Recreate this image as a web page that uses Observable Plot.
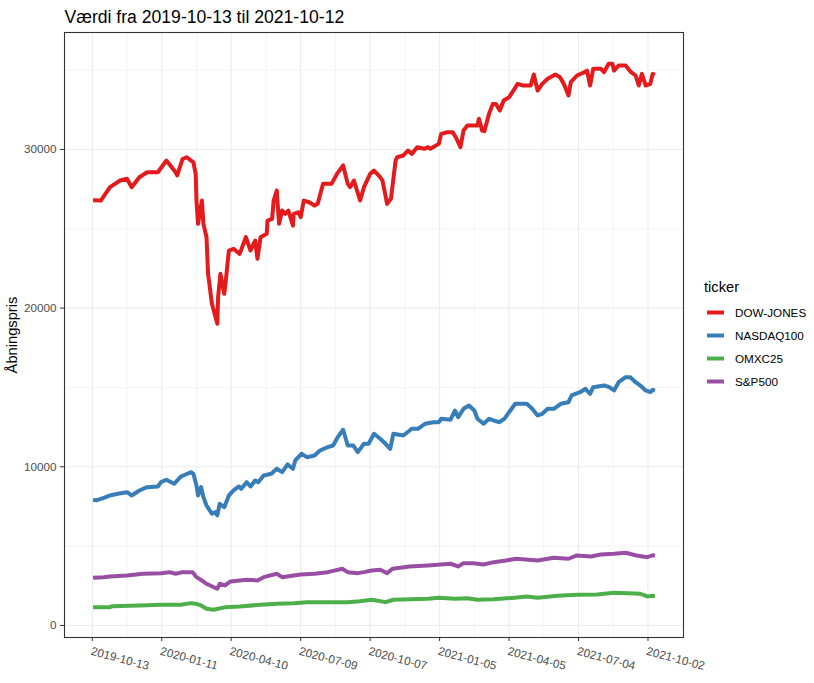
<!DOCTYPE html>
<html><head><meta charset="utf-8">
<script src="https://cdn.jsdelivr.net/npm/d3@7"></script>
<script src="https://cdn.jsdelivr.net/npm/@observablehq/plot@0.6"></script>
<style>body{margin:0;background:#fff;} svg{display:block}</style>
</head><body><div id="chart"></div>
<script>
const tickers = ["DOW-JONES","NASDAQ100","OMXC25","S&P500"];
const colors = ["#E41A1C","#377EB8","#4DAF4A","#984EA3"];
const titleText = "Værdi fra 2019-10-13 til 2021-10-12";
const yTitle = "Åbningspris";
const legendTitle = "ticker";

const dowDates = ["2019-10-14","2019-10-24","2019-11-05","2019-11-18","2019-11-27","2019-12-03","2019-12-13","2019-12-23","2020-01-06","2020-01-17","2020-01-29","2020-01-31","2020-02-07","2020-02-12","2020-02-21","2020-02-24","2020-02-25","2020-02-27","2020-03-03","2020-03-05","2020-03-09","2020-03-11","2020-03-16","2020-03-23","2020-03-24","2020-03-27","2020-04-01","2020-04-03","2020-04-07","2020-04-13","2020-04-21","2020-04-29","2020-05-05","2020-05-11","2020-05-14","2020-05-18","2020-05-26","2020-05-27","2020-06-02","2020-06-04","2020-06-08","2020-06-11","2020-06-15","2020-06-19","2020-06-23","2020-06-29","2020-06-30","2020-07-06","2020-07-09","2020-07-13","2020-07-20","2020-07-27","2020-07-31","2020-08-07","2020-08-18","2020-08-25","2020-09-02","2020-09-08","2020-09-11","2020-09-16","2020-09-24","2020-09-29","2020-10-07","2020-10-12","2020-10-20","2020-10-23","2020-10-29","2020-11-03","2020-11-09","2020-11-11","2020-11-19","2020-11-25","2020-11-30","2020-12-07","2020-12-16","2020-12-21","2020-12-24","2021-01-04","2021-01-07","2021-01-15","2021-01-22","2021-01-26","2021-02-01","2021-02-05","2021-02-10","2021-02-23","2021-02-25","2021-03-01","2021-03-04","2021-03-10","2021-03-15","2021-03-19","2021-03-24","2021-03-29","2021-04-05","2021-04-12","2021-04-16","2021-04-23","2021-05-03","2021-05-07","2021-05-12","2021-05-18","2021-05-25","2021-06-04","2021-06-10","2021-06-15","2021-06-21","2021-06-24","2021-07-02","2021-07-12","2021-07-15","2021-07-19","2021-07-23","2021-08-02","2021-08-06","2021-08-12","2021-08-17","2021-08-19","2021-08-25","2021-09-03","2021-09-10","2021-09-16","2021-09-20","2021-09-24","2021-09-29","2021-10-05","2021-10-08","2021-10-11"];
const dowValues = [26800,26780,27620,28040,28150,27620,28250,28560,28560,29300,28560,28360,29400,29510,29190,28460,26780,25310,26780,25310,24470,22160,20270,19010,20690,22160,20900,21740,23630,23740,23420,24470,23630,24260,23110,24470,24680,25520,25630,26780,27410,25310,26150,25940,26150,25200,25940,26040,25730,26780,26670,26460,26570,27830,27830,28460,28990,27830,27620,28040,26780,27620,28460,28670,28250,28040,26570,26900,29300,29510,29620,29930,29720,30140,30040,30140,30040,30350,30980,31080,31080,30770,30140,31190,31510,31510,31930,31190,31150,32240,32870,32870,32450,33080,33290,33820,34130,34030,34030,34720,33710,34130,34450,34720,34550,34130,33400,34240,34660,34870,34970,34030,35080,35080,34870,35400,35400,34970,35290,35290,34870,34660,34030,34760,34030,34130,34760,34700];

const ndqDates = ["2019-10-14","2019-10-18","2019-10-28","2019-11-05","2019-11-15","2019-11-27","2019-12-03","2019-12-13","2019-12-23","2020-01-06","2020-01-10","2020-01-17","2020-01-27","2020-02-05","2020-02-18","2020-02-21","2020-02-25","2020-02-27","2020-03-02","2020-03-05","2020-03-09","2020-03-16","2020-03-20","2020-03-23","2020-03-26","2020-04-01","2020-04-07","2020-04-13","2020-04-20","2020-04-23","2020-04-30","2020-05-05","2020-05-11","2020-05-15","2020-05-22","2020-06-01","2020-06-08","2020-06-15","2020-06-22","2020-06-29","2020-07-02","2020-07-10","2020-07-17","2020-07-27","2020-08-03","2020-08-13","2020-08-20","2020-08-26","2020-09-02","2020-09-08","2020-09-15","2020-09-21","2020-09-29","2020-10-05","2020-10-12","2020-10-20","2020-10-27","2020-11-02","2020-11-06","2020-11-19","2020-11-30","2020-12-08","2020-12-17","2020-12-28","2021-01-04","2021-01-07","2021-01-19","2021-01-25","2021-01-29","2021-02-05","2021-02-12","2021-02-19","2021-02-23","2021-03-03","2021-03-10","2021-03-16","2021-03-23","2021-03-30","2021-04-05","2021-04-13","2021-04-22","2021-04-28","2021-05-05","2021-05-12","2021-05-18","2021-05-25","2021-06-02","2021-06-11","2021-06-21","2021-06-25","2021-07-06","2021-07-13","2021-07-19","2021-07-23","2021-08-06","2021-08-13","2021-08-19","2021-08-25","2021-09-03","2021-09-09","2021-09-16","2021-09-22","2021-09-29","2021-10-05","2021-10-08","2021-10-11"];
const ndqValues = [7920,7880,8046,8191,8298,8399,8191,8506,8714,8758,9029,9180,8929,9389,9660,9559,8821,8191,8714,8084,7561,7038,7139,6931,7668,7454,8191,8506,8758,8613,9029,8758,9136,9029,9452,9559,9874,9660,10145,9874,10397,10819,10605,10712,11027,11235,11342,11865,12331,11342,11342,10920,11449,11449,12079,11764,11449,11134,12079,11972,12394,12394,12709,12810,12810,13024,12961,13547,13125,13654,13862,13547,13024,12709,13024,12917,12810,13024,13440,13969,13969,13969,13654,13232,13339,13654,13654,13969,14070,14493,14700,14915,14600,15016,15122,15016,14808,15331,15646,15646,15331,15122,14808,14700,14851,14800];

const omxDates = ["2019-10-14","2019-11-05","2019-11-08","2019-12-13","2020-01-10","2020-02-05","2020-02-18","2020-02-24","2020-03-02","2020-03-09","2020-03-18","2020-03-24","2020-04-03","2020-04-21","2020-05-18","2020-06-08","2020-06-30","2020-07-17","2020-08-13","2020-09-08","2020-09-24","2020-10-09","2020-10-27","2020-11-06","2020-12-21","2021-01-04","2021-01-25","2021-02-10","2021-02-23","2021-03-16","2021-04-12","2021-04-28","2021-05-12","2021-06-07","2021-07-02","2021-07-28","2021-08-19","2021-09-06","2021-09-22","2021-10-01","2021-10-08","2021-10-11"];
const omxValues = [1153,1153,1216,1260,1304,1304,1405,1367,1260,1052,989,1052,1153,1197,1304,1367,1405,1468,1468,1468,1531,1619,1468,1619,1682,1745,1682,1720,1619,1657,1745,1827,1745,1871,1934,1953,2060,2035,1997,1827,1871,1860];

const spxDates = ["2019-10-14","2019-10-28","2019-11-05","2019-11-27","2019-12-18","2020-01-10","2020-01-21","2020-01-29","2020-02-07","2020-02-20","2020-02-25","2020-03-03","2020-03-09","2020-03-18","2020-03-23","2020-03-26","2020-04-02","2020-04-09","2020-04-30","2020-05-14","2020-05-22","2020-06-08","2020-06-15","2020-06-30","2020-07-09","2020-07-27","2020-08-13","2020-09-01","2020-09-08","2020-09-21","2020-09-29","2020-10-09","2020-10-20","2020-10-29","2020-11-05","2020-11-27","2020-12-21","2021-01-19","2021-01-29","2021-02-05","2021-02-18","2021-03-03","2021-03-16","2021-04-01","2021-04-14","2021-05-12","2021-06-02","2021-06-21","2021-07-02","2021-07-20","2021-08-02","2021-08-19","2021-09-03","2021-09-17","2021-10-01","2021-10-08","2021-10-11"];
const spxValues = [3006,3043,3087,3150,3258,3296,3359,3258,3359,3359,3043,2835,2627,2419,2313,2627,2520,2772,2880,2835,3043,3258,3043,3150,3213,3258,3359,3573,3359,3296,3359,3466,3509,3296,3573,3718,3781,3888,3718,3926,3926,3844,3989,4096,4203,4096,4266,4203,4411,4348,4474,4518,4581,4411,4304,4420,4400];

const xTicks = ["2019-10-13","2020-01-11","2020-04-10","2020-07-09","2020-10-07","2021-01-05","2021-04-05","2021-07-04","2021-10-02"];
const xMinor = ["2019-11-27","2020-02-25","2020-05-25","2020-08-23","2020-11-21","2021-02-19","2021-05-20","2021-08-18"];
const yTicks = [0, 10000, 20000, 30000];
const yMinor = [5000, 15000, 25000, 35000];

const parse = d3.utcParse("%Y-%m-%d");
function series(name, dates, values) {
  return dates.map((d, i) => ({ticker: name, date: parse(d), value: values[i]}));
}
const data = [
  ...series(tickers[0], dowDates, dowValues),
  ...series(tickers[1], ndqDates, ndqValues),
  ...series(tickers[2], omxDates, omxValues),
  ...series(tickers[3], spxDates, spxValues)
];

const FONT = "'Liberation Sans', Arial, Helvetica, sans-serif";
const W = 814, H = 683, mL = 64, mR = 131, mT = 32, mB = 46;

const chart = Plot.plot({
  width: W, height: H,
  marginLeft: mL, marginRight: mR, marginTop: mT, marginBottom: mB,
  style: {fontFamily: FONT, background: "#fff", overflow: "visible"},
  x: {type: "utc", domain: [parse("2019-09-07"), parse("2021-11-17")]},
  y: {domain: [-760, 37370]},
  color: {domain: tickers, range: colors},
  marks: [
    Plot.gridY(yMinor, {stroke: "#EBEBEB", strokeOpacity: 1, strokeWidth: 0.55}),
    Plot.gridX(xMinor.map(parse), {stroke: "#EBEBEB", strokeOpacity: 1, strokeWidth: 0.55}),
    Plot.gridY(yTicks, {stroke: "#EBEBEB", strokeOpacity: 1, strokeWidth: 1.1}),
    Plot.gridX(xTicks.map(parse), {stroke: "#EBEBEB", strokeOpacity: 1, strokeWidth: 1.1}),
    Plot.line(data, {x: "date", y: "value", z: "ticker", stroke: "ticker", strokeWidth: 4, strokeLinejoin: "round", strokeLinecap: "butt"}),
    Plot.frame({stroke: "#333333", strokeWidth: 1.1}),
    Plot.axisY(yTicks, {tickSize: 4, tickPadding: 4, stroke: "#333333", fill: "#4D4D4D", fontSize: 11.7, label: null, tickFormat: d => String(d)}),
    Plot.axisX(xTicks.map(parse), {tickSize: 4, tickPadding: 5, stroke: "#333333", fill: "#4D4D4D", fontSize: 11.7, label: null, tickRotate: 15, textAnchor: "start", lineAnchor: "top", tickFormat: d3.utcFormat("%Y-%m-%d")}),
    Plot.text([titleText], {frameAnchor: "top-left", dy: -9.5, lineAnchor: "bottom", textAnchor: "start", fontSize: 17.6, fill: "#000"}),
    Plot.text([yTitle], {frameAnchor: "left", dx: -52, rotate: -90, lineAnchor: "middle", textAnchor: "middle", fontSize: 14.7, fill: "#000"})
  ]
});

// legend (ggplot-style, right of panel)
const svg = d3.select(chart);
const color = chart.scale("color");
const lg = svg.append("g").attr("font-family", FONT).attr("text-anchor", "start");
const lx = W - mR + 21;
lg.append("text").attr("x", lx).attr("y", 292).attr("font-size", 14.7).attr("fill", "#000").attr("text-anchor", "start").text(legendTitle);
tickers.forEach((t, i) => {
  const cy = 312.5 + i * 23;
  lg.append("line").attr("x1", lx + 3).attr("x2", lx + 20).attr("y1", cy).attr("y2", cy)
    .attr("stroke", colors[color.domain.indexOf(t)]).attr("stroke-width", 4);
  lg.append("text").attr("x", lx + 31).attr("y", cy).attr("dy", "0.35em").attr("font-size", 11.7).attr("fill", "#000").attr("text-anchor", "start").text(t);
});

document.getElementById("chart").appendChild(chart);
</script>
</body></html>
